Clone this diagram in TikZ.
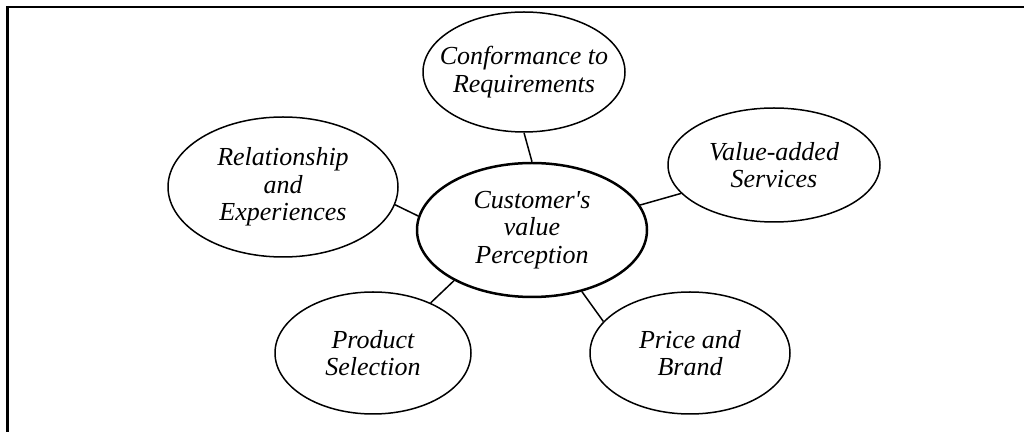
\documentclass[tikz,border=0pt]{standalone}
\usepackage{fontspec}
\setmainfont{Liberation Serif}[Ligatures=TeXOff]
\usetikzlibrary{shapes.geometric}
\tikzstyle{bub} = [style={ellipse,draw,line width=0.75pt,inner xsep=-10pt,inner ysep=0pt,align=center,font=\itshape\fontsize{13}{13.8}\selectfont}]
\tikzstyle{hub} = [style={bub,line width=1.25pt}]
\tikzstyle{lnk} = [style={line width=0.75pt}]

\begin{document}
\begin{tikzpicture}[x=0.5pt,y=-0.5pt]
\useasboundingbox (0,0) rectangle (1024,432);
%% frame
\draw[line width=1pt] (6,7) -- (1030,7);
\draw[line width=1.5pt] (7,6) -- (7,440);

%% bubbles
\node[hub, minimum width=115pt, minimum height=67pt] (cust) at (532,230) {Customer's\\value\\Perception};
\node[bub, minimum width=101pt, minimum height=60pt] (conf) at (524,72) {Conformance to\\Requirements};
\node[bub, minimum width=115pt, minimum height=70pt] (rel) at (283,187) {Relationship\\and\\Experiences};
\node[bub, minimum width=106pt, minimum height=57pt] (val) at (774,165) {Value-added\\Services};
\node[bub, minimum width=98pt, minimum height=61pt] (prod) at (373,353) {Product\\Selection};
\node[bub, minimum width=100pt, minimum height=61pt] (price) at (690,353) {Price and\\Brand};

%% links
\draw[lnk] (conf.south) -- (cust.north);
\draw[lnk] (rel.-9) -- (cust.173);
\draw[lnk] (val.197) -- (cust.13);
\draw[lnk] (prod.41) -- (cust.213);
\draw[lnk] (price.160) -- (cust.-51);
\end{tikzpicture}
\end{document}
